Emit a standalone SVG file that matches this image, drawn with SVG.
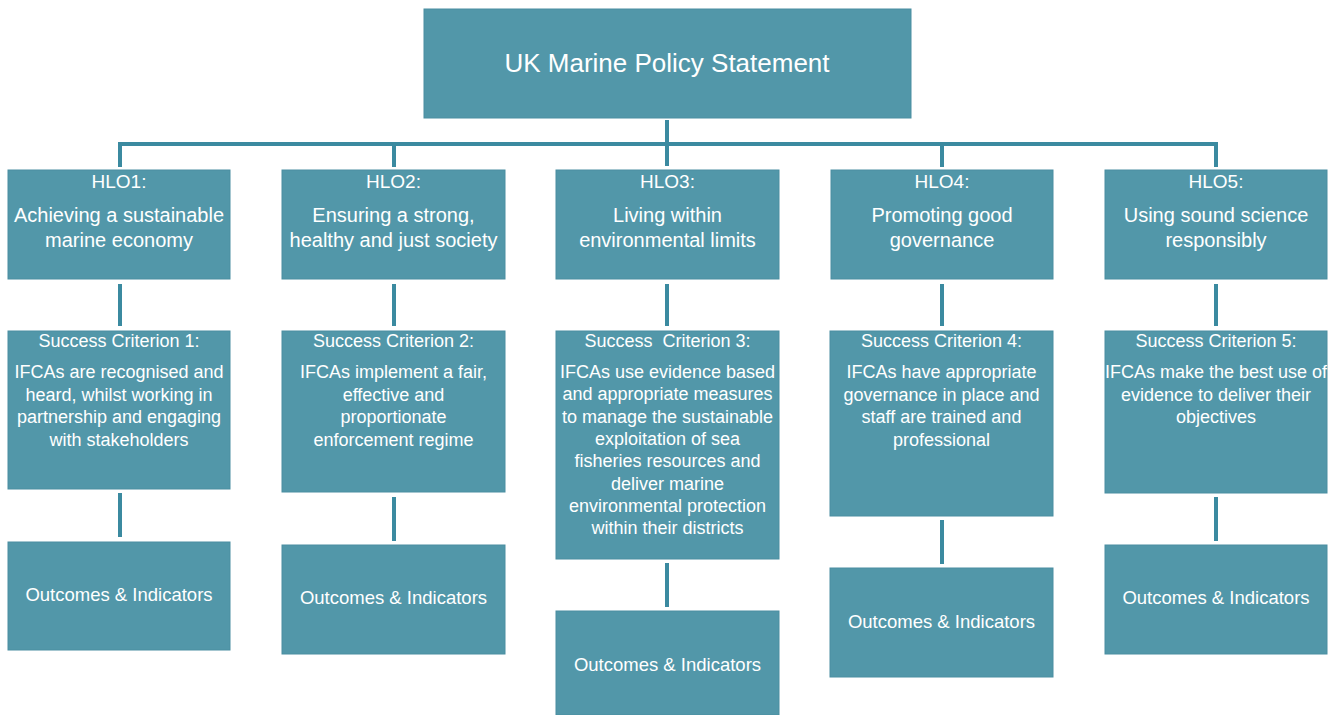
<svg xmlns="http://www.w3.org/2000/svg" width="1343" height="715" viewBox="0 0 1343 715">
<style>
.box{fill:#5297a9;stroke:#4a8ea1;stroke-width:1}
.t{font-family:"Liberation Sans",Arial,sans-serif;fill:#ffffff;text-anchor:middle}
.title{font-size:26px}
.h{font-size:20px}
.hl{font-size:19px}
.s{font-size:18px}
.o{font-size:18.5px}
.c{fill:none;stroke:#3b8aa0;stroke-width:4}
</style>
<rect width="1343" height="715" fill="#ffffff"/>
<g id="connectors">
<path class="c" d="M667 120 V166"/>
<path class="c" d="M120 167 V144 H1216 V167"/>
<path class="c" d="M394 144 V167 M942 144 V167"/>
<path class="c" d="M120 284 V326 M394 284 V326 M667 284 V326 M942 284 V326 M1216 284 V326"/>
<path class="c" d="M120 493 V537 M394 497 V541 M667 563 V607 M942 520 V564 M1216 497 V541"/>
</g>
<g id="mps">
<rect class="box" x="424" y="9" width="487" height="109"/>
<text class="t title" x="667" y="72">UK Marine Policy Statement</text>
</g>
<g id="hlo1">
<rect class="box" x="8" y="170" width="222" height="109"/>
<text class="t hl" x="119" y="188">HLO1:</text>
<text class="t h" x="119" y="222">Achieving a sustainable</text>
<text class="t h" x="119" y="247">marine economy</text>
</g>
<g id="hlo2">
<rect class="box" x="282" y="170" width="223" height="109"/>
<text class="t hl" x="393.5" y="188">HLO2:</text>
<text class="t h" x="393.5" y="222">Ensuring a strong,</text>
<text class="t h" x="393.5" y="247">healthy and just society</text>
</g>
<g id="hlo3">
<rect class="box" x="556" y="170" width="223" height="109"/>
<text class="t hl" x="667.5" y="188">HLO3:</text>
<text class="t h" x="667.5" y="222">Living within</text>
<text class="t h" x="667.5" y="247">environmental limits</text>
</g>
<g id="hlo4">
<rect class="box" x="831" y="170" width="222" height="109"/>
<text class="t hl" x="942" y="188">HLO4:</text>
<text class="t h" x="942" y="222">Promoting good</text>
<text class="t h" x="942" y="247">governance</text>
</g>
<g id="hlo5">
<rect class="box" x="1105" y="170" width="222" height="109"/>
<text class="t hl" x="1216" y="188">HLO5:</text>
<text class="t h" x="1216" y="222">Using sound science</text>
<text class="t h" x="1216" y="247">responsibly</text>
</g>
<g id="sc1">
<rect class="box" x="8" y="331" width="222" height="158"/>
<text class="t s" x="119" y="347">Success Criterion 1:</text>
<text class="t s" x="119" y="378">IFCAs are recognised and</text>
<text class="t s" x="119" y="400.5">heard, whilst working in</text>
<text class="t s" x="119" y="423">partnership and engaging</text>
<text class="t s" x="119" y="445.5">with stakeholders</text>
</g>
<g id="sc2">
<rect class="box" x="282" y="331" width="223" height="161"/>
<text class="t s" x="393.5" y="347">Success Criterion 2:</text>
<text class="t s" x="393.5" y="378">IFCAs implement a fair,</text>
<text class="t s" x="393.5" y="400.5">effective and</text>
<text class="t s" x="393.5" y="423">proportionate</text>
<text class="t s" x="393.5" y="445.5">enforcement regime</text>
</g>
<g id="sc3">
<rect class="box" x="556" y="331" width="223" height="228"/>
<text class="t s" x="667.5" y="347" xml:space="preserve">Success  Criterion 3:</text>
<text class="t s" x="667.5" y="378">IFCAs use evidence based</text>
<text class="t s" x="667.5" y="400.3">and appropriate measures</text>
<text class="t s" x="667.5" y="422.6">to manage the sustainable</text>
<text class="t s" x="667.5" y="444.9">exploitation of sea</text>
<text class="t s" x="667.5" y="467.2">fisheries resources and</text>
<text class="t s" x="667.5" y="489.5">deliver marine</text>
<text class="t s" x="667.5" y="511.8">environmental protection</text>
<text class="t s" x="667.5" y="534.1">within their districts</text>
</g>
<g id="sc4">
<rect class="box" x="830" y="331" width="223" height="185"/>
<text class="t s" x="941.5" y="347">Success Criterion 4:</text>
<text class="t s" x="941.5" y="378">IFCAs have appropriate</text>
<text class="t s" x="941.5" y="400.5">governance in place and</text>
<text class="t s" x="941.5" y="423">staff are trained and</text>
<text class="t s" x="941.5" y="445.5">professional</text>
</g>
<g id="sc5">
<rect class="box" x="1105" y="331" width="222" height="162"/>
<text class="t s" x="1216" y="347">Success Criterion 5:</text>
<text class="t s" x="1216" y="378">IFCAs make the best use of</text>
<text class="t s" x="1216" y="400.5">evidence to deliver their</text>
<text class="t s" x="1216" y="423">objectives</text>
</g>
<g id="oi1">
<rect class="box" x="8" y="542" width="222" height="108"/>
<text class="t o" x="119" y="601">Outcomes &amp; Indicators</text>
</g>
<g id="oi2">
<rect class="box" x="282" y="545" width="223" height="109"/>
<text class="t o" x="393.5" y="604">Outcomes &amp; Indicators</text>
</g>
<g id="oi3">
<rect class="box" x="556" y="611" width="223" height="104"/>
<text class="t o" x="667.5" y="671">Outcomes &amp; Indicators</text>
</g>
<g id="oi4">
<rect class="box" x="830" y="568" width="223" height="109"/>
<text class="t o" x="941.5" y="628">Outcomes &amp; Indicators</text>
</g>
<g id="oi5">
<rect class="box" x="1105" y="545" width="222" height="109"/>
<text class="t o" x="1216" y="604">Outcomes &amp; Indicators</text>
</g>
</svg>
